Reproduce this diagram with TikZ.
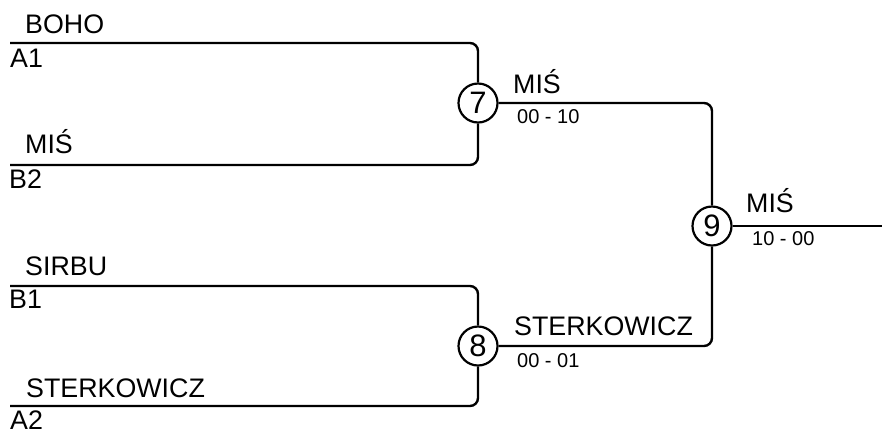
\documentclass[tikz,border=0pt]{standalone}
\usepackage{fontspec}
\setmainfont{Liberation Sans}
\begin{document}
\begin{tikzpicture}[x=1pt,y=-1pt,
  wire/.style={line width=2.4pt,rounded corners=8pt},
  matchc/.style={circle,draw,line width=2.2pt,minimum size=39pt,inner sep=0pt,font=\fontsize{31}{34}\selectfont},
  pname/.style={anchor=base west,inner sep=0pt,font=\fontsize{26.8}{30}\selectfont},
  seedlbl/.style={anchor=base west,inner sep=0pt,font=\fontsize{26.8}{30}\selectfont},
  score/.style={anchor=base west,inner sep=0pt,font=\fontsize{20}{24}\selectfont}]
\useasboundingbox (0,0) rectangle (882,432);
% match circles
\node[matchc] (c7) at (478,103) {7};
\node[matchc] (c8) at (478,346) {8};
\node[matchc] (c9) at (712,226) {9};
% line starts
\coordinate (p1) at (10,43);
\coordinate (p2) at (10,165);
\coordinate (p3) at (10,286);
\coordinate (p4) at (10,406);
\coordinate (fin) at (882,226);
% connectors
\draw[wire] (p1) -| (c7.north);
\draw[wire] (p2) -| (c7.south);
\draw[wire] (p3) -| (c8.north);
\draw[wire] (p4) -| (c8.south);
\draw[wire] (c7.east) -| (c9.north);
\draw[wire] (c8.east) -| (c9.south);
\draw[wire] (c9.east) -- (fin);
% player names and seeds
\node[pname] (n1) at (25,33) {BOHO};
\node[seedlbl] (s1) at (10,67) {A1};
\node[pname] (n2) at (25,153) {MIŚ};
\node[seedlbl] (s2) at (9,188) {B2};
\node[pname] (n3) at (25,275) {SIRBU};
\node[seedlbl] (s3) at (9,308) {B1};
\node[pname] (n4) at (26,397) {STERKOWICZ};
\node[seedlbl] (s4) at (10,429) {A2};
% winners and scores
\node[pname] (w7) at (513,93) {MIŚ};
\node[score] (r7) at (517,123) {00 - 10};
\node[pname] (w8) at (514,335) {STERKOWICZ};
\node[score] (r8) at (517,367) {00 - 01};
\node[pname] (w9) at (746,212) {MIŚ};
\node[score] (r9) at (752,245) {10 - 00};
\end{tikzpicture}
\end{document}
